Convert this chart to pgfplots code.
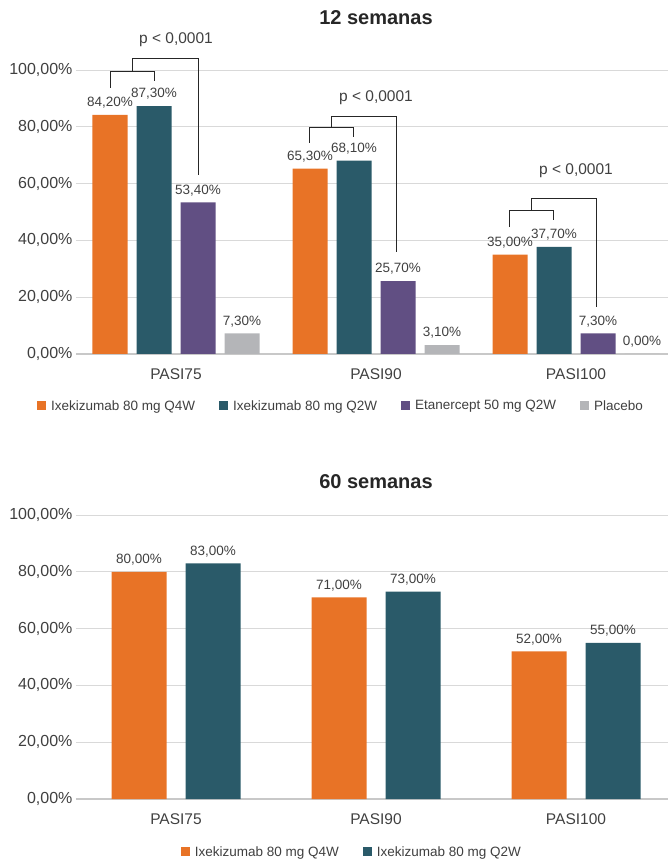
\documentclass[border=0pt]{standalone}
\usepackage{fontspec}
\setmainfont{Liberation Sans}
\usepackage{pgfplots}
\pgfplotsset{compat=1.18}
\definecolor{corange}{RGB}{232,115,38}
\definecolor{cteal}{RGB}{42,90,105}
\definecolor{cpurple}{RGB}{97,79,131}
\definecolor{cgray}{RGB}{180,181,184}
\definecolor{ctext}{RGB}{64,64,64}
\definecolor{cgrid}{RGB}{217,217,217}
\definecolor{caxis}{RGB}{200,200,200}
\pgfplotsset{
 mybase/.style={
  scale only axis, width=592pt, height=284pt,
  ymin=0, ymax=100, xmin=-0.5, xmax=2.46,
  ytick={0,20,40,60,80,100},
  xtick={0,1,2}, xticklabels={PASI75,PASI90,PASI100},
  ymajorgrids, grid style={draw=cgrid, line width=0.9pt},
  axis x line*=bottom, axis y line*=left,
  y axis line style={draw=none},
  x axis line style={draw=caxis, line width=1.2pt},
  major tick length=0pt,
  /pgf/number format/assume math mode=true,
  yticklabel={\pgfmathprintnumber[fixed,fixed zerofill,precision=2,use comma]{\tick}\%},
  yticklabel style={font=\fontsize{16}{18}\selectfont, text=ctext},
  xticklabel style={font=\fontsize{15.5}{18}\selectfont, text=ctext, yshift=-11pt},
  nodes near coords={\pgfmathprintnumber[fixed,fixed zerofill,precision=2,use comma]{\pgfplotspointmeta}\%},
  every node near coord/.append style={font=\fontsize{13.5}{15}\selectfont, text=ctext, yshift=3pt},
  legend style={draw=none, font=\fontsize{13.5}{16}\selectfont, text=ctext, anchor=center,
    /tikz/every odd column/.append style={column sep=3pt},
    /tikz/every even column/.append style={column sep=22pt}},
  legend columns=-1,
  clip=false,
  title style={font=\bfseries\fontsize{20}{24}\selectfont, text=black!85, anchor=center},
 },
 sqlegend/.style={legend image code/.code={\fill[##1] (0pt,-4pt) rectangle (9pt,5pt);}},
}
\begin{document}
\begin{tikzpicture}
\path[use as bounding box] (0,0) rectangle (668pt,860pt);
% ---------- 12 semanas ----------
\begin{axis}[mybase, at={(76pt,506pt)}, anchor=south west,
  ybar=9pt, bar width=35pt, sqlegend,
  title={12 semanas}, title style={at={(0.5068,1.162)}},
  legend style={at={(0.4476,-0.183)}}]
\addplot[fill=corange, draw=none] coordinates {(0,84.2) (1,65.3) (2,35.0)};
\addplot[fill=cteal, draw=none] coordinates {(0,87.3) (1,68.1) (2,37.7)};
\addplot[fill=cpurple, draw=none] coordinates {(0,53.4) (1,25.7) (2,7.3)};
\addplot[fill=cgray, draw=none] coordinates {(0,7.3) (1,3.1) (2,0.0)};
\legend{Ixekizumab 80 mg Q4W, Ixekizumab 80 mg Q2W, Etanercept 50 mg Q2W, Placebo}
% brackets
\draw[black!85, line width=0.9pt] (axis cs:-0.33,93.7) |- (axis cs:-0.11,99.6) -- (axis cs:-0.11,96.1);
\draw[black!85, line width=0.9pt] (axis cs:-0.22,99.6) |- (axis cs:0.11,103.9) -- (axis cs:0.11,63.0);
\node[font=\fontsize{15.5}{18}\selectfont, text=ctext] at (axis cs:0,110.6) {p < 0,0001};
\draw[black!85, line width=0.9pt] (axis cs:0.665,74.3) |- (axis cs:0.885,79.6) -- (axis cs:0.885,76.4);
\draw[black!85, line width=0.9pt] (axis cs:0.775,79.6) |- (axis cs:1.10,83.8) -- (axis cs:1.10,35.9);
\node[font=\fontsize{15.5}{18}\selectfont, text=ctext] at (axis cs:1,90.1) {p < 0,0001};
\draw[black!85, line width=0.9pt] (axis cs:1.665,44.7) |- (axis cs:1.885,50.4) -- (axis cs:1.885,47.2);
\draw[black!85, line width=0.9pt] (axis cs:1.775,50.4) |- (axis cs:2.10,54.6) -- (axis cs:2.10,16.5);
\node[font=\fontsize{15.5}{18}\selectfont, text=ctext] at (axis cs:2,64.6) {p < 0,0001};
\end{axis}
% ---------- 60 semanas ----------
\begin{axis}[mybase, at={(76pt,61pt)}, anchor=south west,
  ybar=19pt, bar width=55pt, sqlegend,
  title={60 semanas}, title style={at={(0.5068,1.095)}},
  legend style={at={(0.466,-0.1866)}}]
\addplot[fill=corange, draw=none] coordinates {(0,80) (1,71) (2,52)};
\addplot[fill=cteal, draw=none] coordinates {(0,83) (1,73) (2,55)};
\legend{Ixekizumab 80 mg Q4W, Ixekizumab 80 mg Q2W}
\end{axis}
\end{tikzpicture}
\end{document}
